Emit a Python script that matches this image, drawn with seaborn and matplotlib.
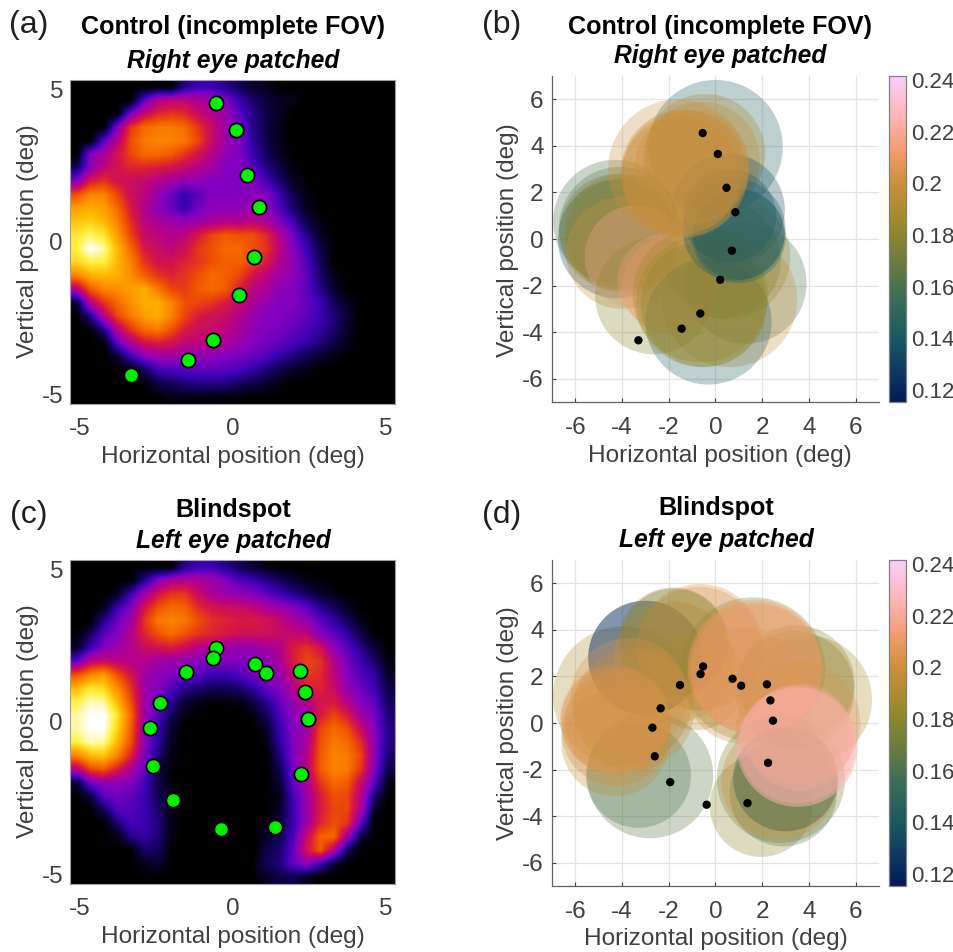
import numpy as np
import pandas as pd
import seaborn as sns
import matplotlib.pyplot as plt
from matplotlib.cm import ScalarMappable
from matplotlib.colors import LinearSegmentedColormap, Normalize
from matplotlib.patches import Circle

sns.set_theme(style='white')
plt.rcParams['font.family'] = ['Liberation Sans', 'DejaVu Sans']

W, H = 954, 952

# coverage maps, read by eye on a 24 x 24 grid (0 black ... 10 white)
coverage_a = [
    [0,0,0,0,0,0,0,0,1.5,2,2,1.5,1,.5,.3,0,0,0,0,0,0,0,0,0],
    [0,0,0,0,0,2.5,4,4.2,4.2,3.8,3.5,3,2,1.2,.7,.4,.3,0,0,0,0,0,0,0],
    [0,0,0,0,3,4.5,5.2,5.5,5.3,4.5,4,3.5,2.5,1.5,.8,.4,0,0,0,0,0,0,0,0],
    [0,0,0,3,5.5,6.5,6.8,6.8,6.5,5.5,4.5,3.5,2.8,1.5,.8,.3,0,0,0,0,0,0,0,0],
    [0,0,2.5,4,6,6.8,7,7,6.8,5.8,4.5,3.5,3,1.8,.8,.3,0,0,0,0,0,0,0,0],
    [0,3,3.8,4.8,5.8,6.5,6.5,6.2,5.5,4.8,4,3.3,3,2,1,.4,0,0,0,0,0,0,0,0],
    [1,3.2,4.2,4.8,5.2,5.2,5,4.8,4.4,4,3.6,3,3,2.5,1.5,.8,.2,0,0,0,0,0,0,0],
    [3,5,5.5,4.8,4.6,4.4,4,3.6,3.3,3.2,3,3,3,3,2.2,1.2,.4,0,0,0,0,0,0,0],
    [6,7,7,5.8,4.6,4.2,3.4,2.6,1.8,2.5,3,3,3,3.2,3,2,.8,.2,0,0,0,0,0,0],
    [7.5,7.8,7.5,6.5,5,4,3.2,2.6,2,2.8,3.2,3.2,3.2,3.5,3.2,2.3,1.2,.3,0,0,0,0,0,0],
    [8.2,8.4,8,7,5.4,4.2,3.8,3.5,3.3,3.5,3.8,4,4,4.2,3.8,3,2,.8,.2,0,0,0,0,0],
    [8.8,9.2,8.8,7.5,5.8,4.5,4.2,4,4.2,5,5.8,6.2,6,6,5.3,4,2.8,1.5,.4,0,0,0,0,0],
    [9,10,9.5,8,6.5,5,4.5,4.2,4.7,5.6,6,6.5,6.5,6,5.5,4.2,3,2,.8,0,0,0,0,0],
    [8.5,9,9,8,7,5.5,4.8,4.8,5.2,5.5,6,6.3,6.3,5.8,5,4,3.3,2.3,1,0,0,0,0,0],
    [7,7.8,8,7.8,7.2,6.3,5.5,5.2,5.5,6,6.5,6.3,5.8,4.8,4.2,3.5,3.2,2.5,1.2,.3,0,0,0,0],
    [4,6.2,7,7.2,7.5,7.8,6.8,5.8,5.6,6.2,6.5,6.2,5.2,4.2,3.8,3.2,3,2.5,1.5,.5,0,0,0,0],
    [.5,4,5.5,6.5,7.2,7.8,7.8,7,6,5.8,5.5,5,4.5,3.8,3.3,3,3,2.6,2,1,.4,0,0,0],
    [0,1.5,4,5.8,6.8,7.5,7.8,7,5.8,5,4.7,4.5,4,3.4,3,3,2.8,2.5,2,1.3,.6,0,0,0],
    [0,0,1.5,4,5.5,6.5,6.8,6,5,4.6,4.5,4.2,3.8,3.3,3,2.8,2.5,2.2,1.8,1.2,.5,0,0,0],
    [0,0,0,2.5,3.8,4.8,5,4.8,4.3,4.2,4,3.8,3.4,3,2.8,2.5,2.2,1.8,1.3,.8,.3,0,0,0],
    [0,0,0,.5,2,3,3.5,3.5,3.3,3.2,3.2,3,2.8,2.6,2.3,1.8,1.3,.9,.5,.2,0,0,0,0],
    [0,0,0,0,0,1,2,2.2,2.4,2.5,2.5,2.4,2.2,1.8,1.3,.8,.4,.2,0,0,0,0,0,0],
    [0,0,0,0,0,.1,.8,1,1.3,1.5,1.4,1.4,1,.8,.5,.2,0,0,0,0,0,0,0,0],
    [0,0,0,0,0,0,0,.2,.2,.2,.2,.1,.1,0,0,0,0,0,0,0,0,0,0,0],
]
coverage_c = [
    [0,0,0,0,0,0,0,0,1.5,2,2,1.5,1,.6,.2,0,0,0,0,0,0,0,0,0],
    [0,0,0,0,0,1.5,3,3.8,4,3.8,3.5,3,2.3,2,1.5,1,.6,.2,.1,0,0,0,0,0],
    [0,0,0,.3,2,3.5,4.8,5.5,5.5,4.5,3.8,3.5,3.2,3,2.5,2,1.5,1,.5,.2,0,0,0,0],
    [0,0,.3,2,3,4.8,6,6.5,6.3,5.3,4.8,4.6,4.5,4.3,3.8,3.4,3,2.4,1.6,1,.4,0,0,0],
    [0,0,1.5,2.7,3.5,5.5,6.8,7,6.8,6,5.4,5.2,5,5,4.8,4.4,3.8,3.3,2.5,1.8,1,.3,0,0],
    [0,1,2.5,3,4,5.2,6,6.5,6,5.5,5.2,4.9,4.7,4.7,4.7,4.5,4.4,4.2,3,2.5,1.8,.8,.1,0],
    [.5,2,3,3.5,4,4.5,4.8,5,4.6,4,3.8,3.5,3.3,3.4,3.6,4,5,5.5,4.8,3.2,2.5,1.5,.6,0],
    [2.5,4.2,4.5,4.2,4,4,3.6,3.5,3.3,3,3,3,3,3,3.2,3.8,5,5.8,5.5,4,2.8,2,1.2,.2],
    [6,7,7.5,6,4.8,3.6,3.2,3,2.6,2.5,2,2,2.3,2.8,3,3.4,4.5,5.6,5.3,4.3,3,2.3,1.8,.5],
    [8,8.8,8.5,7.2,5.5,3.5,3,2.3,1.6,1.2,1,1,1.2,1.8,2.6,3,4,5,5.2,4.5,3.3,2.7,2,.8],
    [9,9.6,9.5,8,6,3.5,2.7,1.6,.7,.3,.1,.1,.2,.7,1.6,2.6,3.4,4,4.8,5,4,3,2.5,1],
    [9.5,10,10,8.8,6.5,3.5,2.3,1,.2,0,0,0,0,.2,1,2.2,3.2,3.5,5,5.8,5,3.6,2.8,1.3],
    [9.5,10,10,8.5,6.3,3.3,2,.5,0,0,0,0,0,0,.4,2,3,3.5,5.8,6.5,6,4.5,3,1.5],
    [9,9.6,9.5,8,6,3.2,1.8,.4,0,0,0,0,0,0,.2,1.8,3,3.8,6,6.8,6.5,5.3,3.2,1.5],
    [7,8,8.2,7,5.2,3,1.3,.2,0,0,0,0,0,0,0,1.3,3,4,6.2,7,6.8,5.8,3.2,1.2],
    [4,5.8,6.2,5,3.8,2.6,.8,.1,0,0,0,0,0,0,0,1,2.8,4.2,6.2,7,6.8,5.5,3,.8],
    [.5,2.8,3.2,3.2,3,2.2,.8,.2,0,0,0,0,0,0,0,.6,2.5,3.8,5.5,6.5,6.2,4.5,2.4,.2],
    [0,.7,2.5,2.8,2.5,2,1,.2,0,0,0,0,0,0,0,.3,2.2,3.5,5,6,5.8,4,1.3,0],
    [0,0,1,2.4,2.4,2,1.2,.2,0,0,0,0,0,0,0,.5,2,3.5,5,5.8,5.8,3.8,.4,0],
    [0,0,0,1.2,2.2,2,1.4,.3,0,0,0,0,0,0,.2,.8,2,3.5,5.2,6,5.5,2.5,0,0],
    [0,0,0,.2,1.5,1.8,1.3,.2,0,0,0,0,0,0,.5,1,2.2,4.5,6.3,6.5,3.5,.6,0,0],
    [0,0,0,0,0,1.2,1,.1,0,0,0,0,0,0,.8,1.2,2.6,4.8,6.2,4,1,0,0,0],
    [0,0,0,0,0,.3,.6,0,0,0,0,0,0,0,1,1.4,2.6,3.2,2,.5,0,0,0,0],
    [0,0,0,0,0,0,0,0,0,0,0,0,0,0,.4,.8,.8,.4,0,0,0,0,0,0],
]

# stimulated points
control_x = [-0.55, 0.1, 0.47, 0.85, 0.7, 0.2, -0.65, -1.45, -3.3]
control_y = [4.55, 3.65, 2.2, 1.15, -0.5, -1.75, -3.2, -3.85, -4.35]
blind_x = [-0.53, -0.64, -1.52, -2.35, -2.7, -2.6, -1.94, -0.38, 1.37, 2.25, 2.46, 2.35, 2.2, 1.1, 0.73]
blind_y = [2.43, 2.1, 1.63, 0.63, -0.2, -1.43, -2.54, -3.51, -3.44, -1.71, 0.1, 0.97, 1.66, 1.6, 1.9]

# pRF circles, drawn in this order
control_cx = [0, -0.45, -0.6, 0.55, 1.3, 0.6, 0.5, 0.3,
              -4.2, -4.3, -4.1, -4.2, -4.0, -3.95, -4.0, -3.4, -2.65, -2.2, -1.9,
              -0.3, -0.65, -0.6, -0.5,
              0.6, 0.8, 1.0, 1.0,
              -1.6, -1.3, -1.4, -1.5, -1.0]
control_cy = [3.95, 3.65, 3.4, 1.24, -1.9, -2.6, -0.75, -0.9,
              0.0, 0.75, 0.5, 0.3, 0.2, 0.25, -0.6, -0.75, -2.45, -1.8, -2.0,
              -3.55, -2.4, -2.7, -2.8,
              1.0, 0.4, 0.1, 0.2,
              3.0, 2.8, 2.9, 2.7, 3.1]
control_r = [2.88, 2.58, 2.5, 2.42, 2.6, 2.9, 2.7, 2.5,
             2.55, 2.65, 2.6, 2.5, 2.4, 2.55, 2.4, 2.2, 2.5, 2.0, 2.1,
             2.7, 2.9, 2.8, 2.7,
             2.0, 2.2, 2.0, 1.95,
             3.0, 2.7, 2.65, 2.55, 2.45]
control_val = [.145, .19, .195, .135, .16, .2, .185, .175,
               .13, .16, .165, .17, .175, .18, .2, .22, .18, .215, .21,
               .145, .185, .185, .18,
               .14, .14, .145, .14,
               .2, .2, .195, .2, .2]

blind_cx = [-3.95, -3.0, -3.0, -1.8, -0.67, -0.7, -1.8, -1.8, -0.8, 1.6, 3.95, 3.45, 3.4, 1.2, 1.7, 1.7, 1.75,
            1.95, 2.8, 2.9, 2.75, 3.0, 3.0, 3.55, 3.5, 3.5, 3.5, 3.6,
            -2.8, -3.3, -4.3, -4.25, -4.3, -4.3, -4.2, -3.7, -3.5]
blind_cy = [1.15, 2.8, 2.8, 2.6, 3.25, 3.2, 3.47, 3.47, 1.8, 2.3, 1.0, 1.7, 1.4, 1.6, 2.4, 2.35, 2.3,
            -3.55, -2.4, -3.0, -2.5, -2.4, -2.45, 0.0, -1.0, -1.05, -0.95, -0.6,
            -2.25, -2.25, -0.85, -0.35, 0.15, 0.1, 0.05, 1.15, 0.6]
blind_r = [3.0, 2.45, 2.45, 2.6, 2.72, 2.65, 2.35, 2.3, 2.1, 3.1, 2.75, 2.5, 2.55, 2.5, 2.9, 2.85, 2.8,
           2.2, 2.75, 2.3, 2.5, 2.25, 2.2, 2.65, 2.6, 2.55, 2.5, 2.3,
           2.7, 2.25, 2.3, 2.35, 2.35, 2.3, 2.25, 2.5, 2.6]
blind_val = [.19, .125, .125, .2, .205, .205, .18, .178, .19, .18, .19, .18, .18, .2, .21, .21, .21,
             .18, .175, .165, .2, .14, .175, .205, .225, .225, .225, .22,
             .165, .16, .195, .2, .205, .205, .205, .205, .2]

cbar_ticks = [0.12, 0.14, 0.16, 0.18, 0.2, 0.22, 0.24]
cbar_labels = ['0.12', '0.14', '0.16', '0.18', '0.2', '0.22', '0.24']

fire = LinearSegmentedColormap.from_list('fire_like', [
    '#000000', '#14005a', '#3c00b4', '#8400c0', '#b4008c', '#d81840',
    '#f05000', '#fb8400', '#ffb800', '#fff040', '#ffffff'])
batlow = LinearSegmentedColormap.from_list('batlow_like', [
    (0, '#011959'), (.1, '#0f3b5f'), (.2, '#1c5a62'), (.32, '#3c6d56'), (.42, '#687b3e'),
    (.55, '#9d892b'), (.67, '#cc8f3c'), (.76, '#f09a68'), (.86, '#fdb0a8'), (.93, '#fcc0d4'), (1, '#facffa')])
norm = Normalize(0.1154, 0.2415)

GRAY = '#404040'
LABEL = 17.6
TICK = 17.5


def px_axes(fig, left, top, right, bottom):
    return fig.add_axes([left / W, 1 - bottom / H, (right - left) / W, (bottom - top) / H])


def put_text(fig, x, y, s, **kws):
    fig.text(x / W, 1 - y / H, s, ha='center', va='center', **kws)


def coverage_panel(fig, rect, grid, xs, ys, cx, y1, y2, y_label, title, sub, tag, tag_y):
    ax = px_axes(fig, *rect)
    ax.imshow(np.array(grid), cmap=fire, vmin=0, vmax=10, interpolation='bilinear',
              origin='upper', extent=[-5.3, 5.3, -5.3, 5.3], aspect='auto')
    pts = pd.DataFrame({'x': xs, 'y': ys})
    sns.scatterplot(data=pts, x='x', y='y', ax=ax, s=105, color='#00f000', edgecolor='black', linewidth=1.2, zorder=3)
    ax.set_xlim(-5.3, 5.3)
    ax.set_ylim(-5.3, 5.3)
    ax.set_xticks([-5, 0, 5])
    ax.set_yticks([-5, 0, 5])
    ax.set_xticklabels(['-5', '0', '5'])
    ax.set_yticklabels(['-5', '0', '5'])
    ax.tick_params(length=0, labelsize=TICK, labelcolor=GRAY)
    ax.tick_params(axis='x', pad=10)
    ax.tick_params(axis='y', pad=5)
    ax.set_xlabel('')
    ax.set_ylabel('')
    for s in ax.spines.values():
        s.set_color('#a0a0a0')
        s.set_linewidth(0.8)
    put_text(fig, cx, y1, title, fontsize=18.1, fontweight='bold', color='black')
    put_text(fig, cx, y2, sub, fontsize=17.7, fontweight='bold', fontstyle='italic', color='black')
    put_text(fig, cx, rect[3] + 53, 'Horizontal position (deg)', fontsize=LABEL, color=GRAY)
    put_text(fig, 28, y_label, 'Vertical position (deg)', fontsize=LABEL, color=GRAY, rotation=90)
    put_text(fig, 29, tag_y, tag, fontsize=23, color='#202020')


def prf_panel(fig, rect, xs, ys, ccx, ccy, rad, val, cbar_top_bottom, cx, y1, y2, x_y, y_label, title, sub, tag, tag_y):
    ax = px_axes(fig, *rect)
    ax.set_axisbelow(True)
    for a, b, r, v in zip(ccx, ccy, rad, val):
        ax.add_patch(Circle((a, b), r, facecolor=batlow(norm(v)), edgecolor='none', alpha=0.3, zorder=2))
    pts = pd.DataFrame({'x': xs, 'y': ys})
    sns.scatterplot(data=pts, x='x', y='y', ax=ax, s=36, color='black', edgecolor='none', zorder=4)
    ax.set_xlim(-7, 7)
    ax.set_ylim(-7, 7)
    ax.set_xticks(range(-6, 7, 2))
    ax.set_yticks(range(-6, 7, 2))
    ax.set_xticklabels([str(t) for t in range(-6, 7, 2)])
    ax.set_yticklabels([str(t) for t in range(-6, 7, 2)])
    ax.grid(True, color='#e4e4e4', linewidth=0.9)
    ax.tick_params(direction='in', length=3, width=0.8, color=GRAY, bottom=True, left=True,
                   labelsize=TICK, labelcolor=GRAY)
    ax.tick_params(axis='x', pad=11)
    ax.tick_params(axis='y', pad=6)
    ax.set_xlabel('')
    ax.set_ylabel('')
    sns.despine(ax=ax)
    for side in ['left', 'bottom']:
        ax.spines[side].set_color('#606060')
        ax.spines[side].set_linewidth(0.9)

    cax = px_axes(fig, 889, cbar_top_bottom[0], 906, cbar_top_bottom[1])
    cb = fig.colorbar(ScalarMappable(norm=norm, cmap=batlow), cax=cax)
    cb.set_ticks(cbar_ticks)
    cb.set_ticklabels(cbar_labels)
    cb.ax.tick_params(direction='in', length=2, width=0.8, color=GRAY, right=True,
                      labelsize=16, labelcolor=GRAY, pad=4)
    cb.outline.set_edgecolor('#808080')
    cb.outline.set_linewidth(0.9)

    put_text(fig, cx, y1, title, fontsize=18.1, fontweight='bold', color='black')
    put_text(fig, cx, y2, sub, fontsize=17.7, fontweight='bold', fontstyle='italic', color='black')
    put_text(fig, cx, x_y, 'Horizontal position (deg)', fontsize=LABEL, color=GRAY)
    put_text(fig, 508, y_label, 'Vertical position (deg)', fontsize=LABEL, color=GRAY, rotation=90)
    put_text(fig, 502, tag_y, tag, fontsize=23, color='#202020')


fig = plt.figure(figsize=(W / 100, H / 100), dpi=100, facecolor='white')

coverage_panel(fig, (70, 80, 395, 404), coverage_a, control_x, control_y, 233, 27, 61, 241,
               'Control (incomplete FOV)', 'Right eye patched', '(a)', 25)
coverage_panel(fig, (70, 560, 395, 884), coverage_c, blind_x, blind_y, 233, 510, 541, 721,
               'Blindspot', 'Left eye patched', '(c)', 515)

prf_panel(fig, (552, 76, 879, 402), control_x, control_y, control_cx, control_cy, control_r, control_val,
          (76, 402), 720, 27, 56, 456, 240, 'Control (incomplete FOV)', 'Right eye patched', '(b)', 25)
prf_panel(fig, (552, 560, 879, 886), blind_x, blind_y, blind_cx, blind_cy, blind_r, blind_val,
          (560, 886), 716, 508, 540, 939, 723, 'Blindspot', 'Left eye patched', '(d)', 515)

fig.savefig('out.png', dpi=100, facecolor='white')
